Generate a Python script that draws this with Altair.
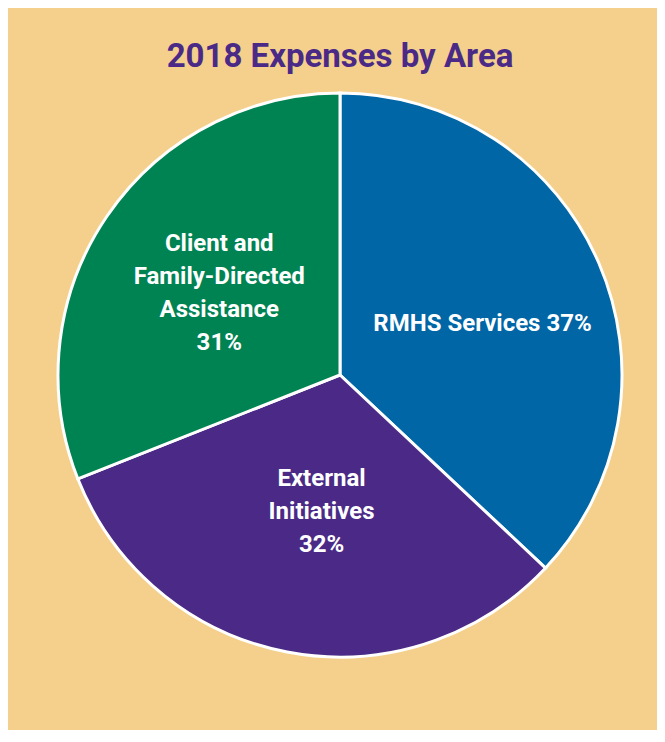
import altair as alt
import pandas as pd

categories = ["RMHS Services", "External Initiatives", "Client and Family-Directed Assistance"]
values = [37, 32, 31]
labels = ["RMHS Services 37%", "External\nInitiatives\n32%", "Client and\nFamily-Directed\nAssistance\n31%"]
colors = ["#0066A6", "#4A2A86", "#008352"]
order = [1, 2, 3]

df = pd.DataFrame({"category": categories, "value": values, "label": labels, "order": order})

BG = "#F4D08C"
PURPLE = "#4A2A86"
LH = 33

base = alt.Chart(df).encode(
    theta=alt.Theta("value:Q", stack=True),
    order=alt.Order("order:Q"),
)

arcs = base.mark_arc(outerRadius=282, stroke="white", strokeWidth=3).encode(
    color=alt.Color("category:N", scale=alt.Scale(domain=categories, range=colors), legend=None)
)

def label_layer(cat, radius, dx=0, dy=0):
    n = labels[categories.index(cat)].count("\n") + 1
    return base.mark_text(
        radius=radius, fontSize=24, fontWeight="bold", font="Roboto", color="white",
        lineBreak="\n", lineHeight=LH, align="center", baseline="middle",
        dx=dx, dy=-(n - 1) * LH / 2 + dy
    ).encode(
        text=alt.condition(alt.datum.category == cat, "label:N", alt.value(""))
    )

texts = [
    label_layer(categories[0], 152, dx=3, dy=9),
    label_layer(categories[1], 136, dx=7, dy=3),
    label_layer(categories[2], 146, dx=0, dy=1),
]

chart = alt.layer(arcs, *texts).properties(
    width=634,
    height=564,
    autosize=alt.AutoSizeParams(type="none"),
    padding={"left": 15, "top": 85, "right": 0, "bottom": 73},
    background=BG,
    title=alt.TitleParams(
        "2018 Expenses by Area", fontSize=33, font="Roboto", fontWeight="bold",
        color=PURPLE, anchor="middle", offset=13
    ),
).configure_view(stroke=None)

chart.save("out.html", embed_options={"renderer": "svg", "actions": False})
